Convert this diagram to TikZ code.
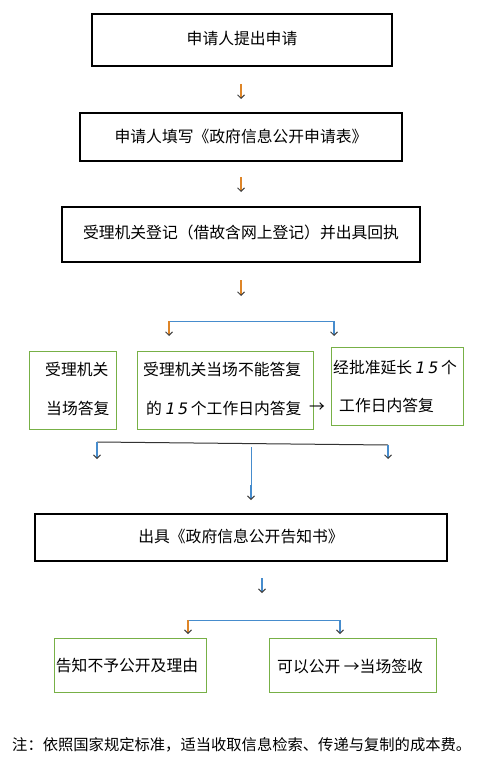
\documentclass[tikz,border=0pt]{standalone}
\usepackage{fontspec}
\setmainfont{Noto Sans CJK SC}
\newfontfamily\numfont{DejaVu Sans}
\usetikzlibrary{arrows.meta, positioning}
\definecolor{box-green}{RGB}{119,176,70}
\definecolor{arrow-orange}{RGB}{222,133,40}
\definecolor{arrow-blue}{RGB}{70,140,205}

\begin{document}
\begin{tikzpicture}[x=1pt, y=-1pt,
  blackbox/.style={draw, line width=1.1pt, inner sep=0pt},
  greenbox/.style={draw=box-green, line width=1pt, inner sep=0pt},
  txt/.style={font=\fontsize{15.8}{17}\selectfont, inner sep=0pt},
  down/.style={draw=arrow-orange, line width=1.4pt, -{Straight Barb[length=3.5pt, width=7pt, line width=1pt, color=black!75]}},
  downblue/.style={down, draw=arrow-blue},
]
  \useasboundingbox (0,0) rectangle (483,770);

  % Application
  \node[blackbox, minimum width=300, minimum height=52] (apply) at (242,40) {};
  \node[txt] (applytxt) at (242,38) {申请人提出申请};

  % Form
  \node[blackbox, minimum width=322, minimum height=48] (form) at (241,137) {};
  \node[txt] (formtxt) at (241,136) {申请人填写《政府信息公开申请表》};

  % Registration
  \node[blackbox, minimum width=358, minimum height=55] (reg) at (241,234.5) {};
  \node[txt] (regtxt) at (241,232) {受理机关登记（借故含网上登记）并出具回执};

  % Three ways of answering
  \node[greenbox, minimum width=87, minimum height=78] (spot) at (72.5,390) {};
  \node[txt, anchor=west] (spottxta) at (45,369) {受理机关};
  \node[txt, anchor=west] (spottxtb) at (46,408) {当场答复};

  \node[greenbox, minimum width=176, minimum height=78] (days) at (225,390) {};
  \node[txt, anchor=west] (daystxta) at (143,369) {受理机关当场不能答复};
  \node[txt, anchor=west] (daystxtb) at (146,408) {的 {\numfont\itshape 1\,5}\,个工作日内答复};
  \node[txt, anchor=west] (daysarrow) at (309,408) {→};

  \node[greenbox, minimum width=132, minimum height=78] (ext) at (397,386) {};
  \node[txt, anchor=west] (exttxta) at (333,368) {经批准延长 {\numfont\itshape 1\,5}\,个};
  \node[txt, anchor=west] (exttxtb) at (339,405) {工作日内答复};

  % Notice
  \node[blackbox, minimum width=412, minimum height=47] (notice) at (241,537.5) {};
  \node[txt] (noticetxt) at (241,536) {出具《政府信息公开告知书》};

  % Results
  \node[greenbox, minimum width=152, minimum height=54] (deny) at (130,665) {};
  \node[txt] (denytxt) at (127,666) {告知不予公开及理由};
  \node[greenbox, minimum width=167, minimum height=54] (open) at (352.5,665) {};
  \node[txt, anchor=west] (opentxt) at (277,666) {可以公开 →当场签收};

  % Note
  \node[txt, font=\fontsize{15.3}{17}\selectfont, anchor=west] (note) at (12,745) {注：依照国家规定标准，适当收取信息检索、传递与复制的成本费。};

  % small arrows
  \coordinate (a1) at (241,84);  \coordinate (b1) at (241,99);
  \coordinate (a2) at (241,177); \coordinate (b2) at (241,192);
  \coordinate (a3) at (241,280); \coordinate (b3) at (241,296);
  \draw[down] (a1) -- (b1);
  \draw[down] (a2) -- (b2);
  \draw[down] (a3) -- (b3);

  % split into three
  \coordinate (sl) at (169,321); \coordinate (sr) at (334,321);
  \coordinate (slb) at (169,336); \coordinate (srb) at (334,336);
  \draw[arrow-blue, line width=1pt] (sl) -- (sr);
  \draw[down] (sl) -- (slb);
  \draw[downblue] (sr) -- (srb);

  % join
  \coordinate (jl) at (97,442); \coordinate (jr) at (388,445);
  \coordinate (jlb) at (97,459); \coordinate (jrb) at (388,459);
  \coordinate (jm) at (251,447); \coordinate (jmb) at (251,485);
  \coordinate (jmc) at (251,500);
  \draw[black!80, line width=1pt] (jl) -- (jr);
  \draw[downblue] (jl) -- (jlb);
  \draw[downblue] (jr) -- (jrb);
  \draw[arrow-blue, line width=1pt] (jm) -- (jmb);
  \draw[downblue] (jmb) -- (jmc);

  % after notice
  \coordinate (a5) at (262,578); \coordinate (b5) at (262,593);
  \draw[downblue] (a5) -- (b5);
  \coordinate (tl) at (188,620); \coordinate (tr) at (340,620);
  \coordinate (tlb) at (188,634); \coordinate (trb) at (340,634);
  \draw[arrow-blue, line width=1pt] (tl) -- (tr);
  \draw[down] (tl) -- (tlb);
  \draw[downblue] (tr) -- (trb);
\end{tikzpicture}
\end{document}
